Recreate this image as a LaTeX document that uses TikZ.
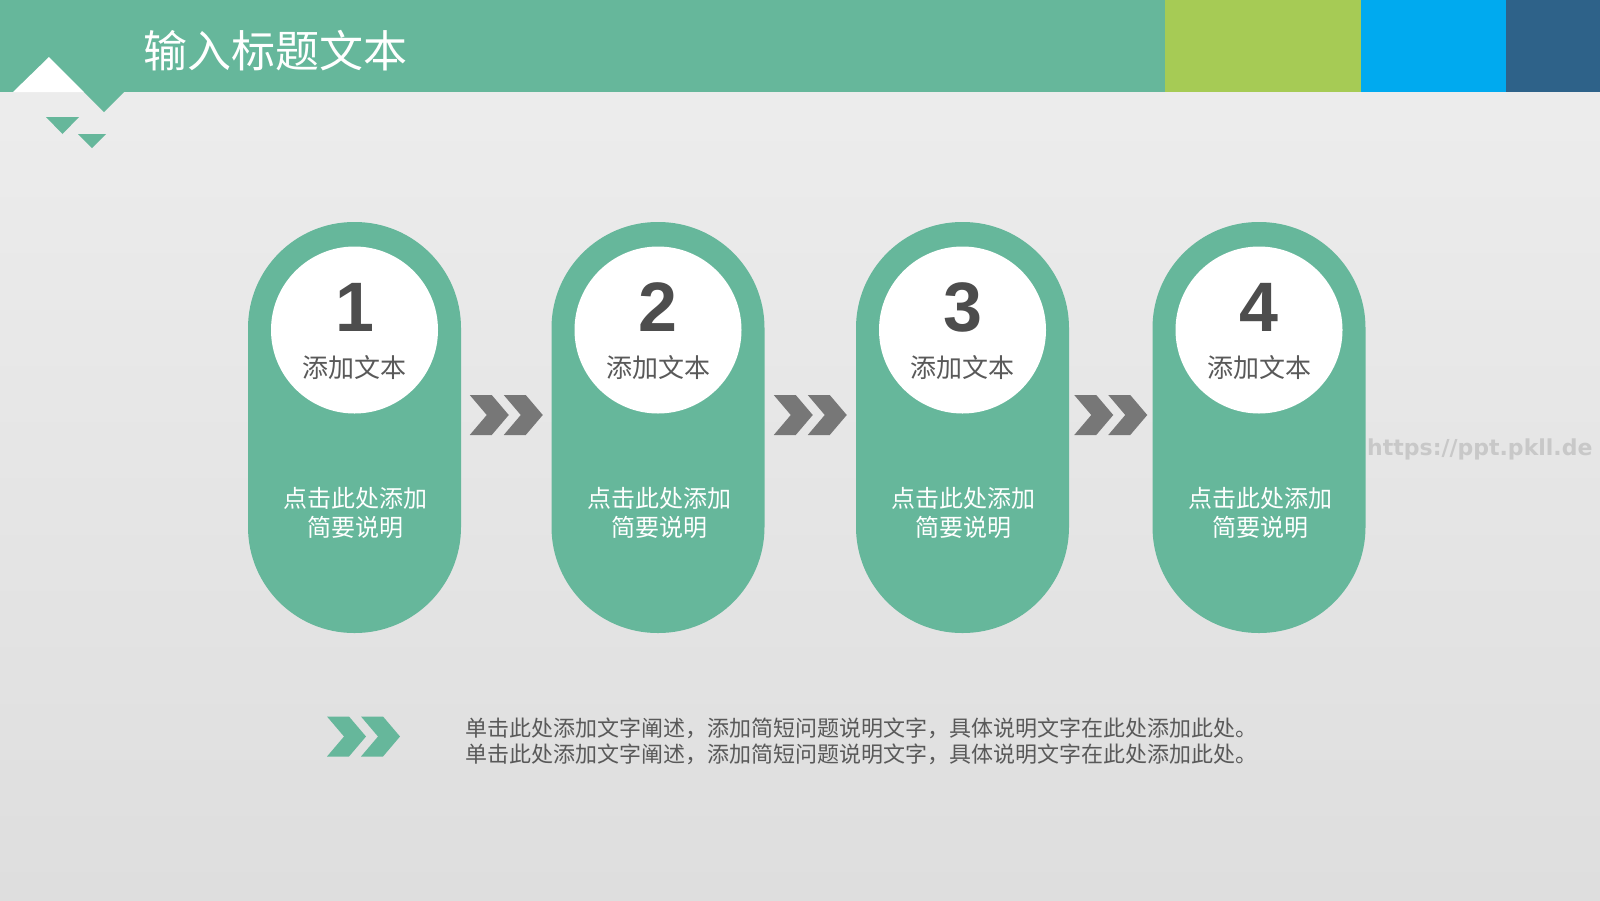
\documentclass[tikz,border=0pt]{standalone}
\usepackage{fontspec}
\setmainfont{Noto Sans CJK SC}
\newfontfamily\cjk{Noto Sans CJK SC}
\newfontfamily\numfont{Liberation Sans}
\newfontfamily\wmfont{DejaVu Sans}
\usetikzlibrary{calc}
\definecolor{mygreen}{HTML}{66B79B}
\definecolor{lime}{HTML}{A6CB55}
\definecolor{skyblue}{HTML}{00AAEF}
\definecolor{navy}{HTML}{2E6289}
\definecolor{bgtop}{HTML}{EEEEEE}
\definecolor{bgbot}{HTML}{DEDEDE}
\definecolor{chevgray}{HTML}{777777}
\definecolor{numgray}{HTML}{4D4D4D}
\definecolor{txtgray}{HTML}{595959}
\definecolor{wmgray}{HTML}{C8C8C8}
\tikzset{
  pill/.style={fill=mygreen, draw=none, minimum width=213pt, minimum height=411pt, rounded corners=106pt, inner sep=0pt},
  circ/.style={circle, fill=white, draw=none, minimum size=167pt, inner sep=0pt},
  numtxt/.style={text=numgray, font=\numfont\bfseries\fontsize{70}{70}\selectfont, inner sep=0pt},
  subtxt/.style={text=txtgray, font=\cjk\fontsize{26}{30}\selectfont, inner sep=0pt},
  desctxt/.style={text=white, font=\cjk\fontsize{24}{29}\selectfont, align=center, inner sep=0pt},
  chev/.pic={
    \fill[#1] (-36.5,-20)--(-14.5,-20)--(2.5,0)--(-14.5,20)--(-36.5,20)--(-19.5,0)--cycle;
    \fill[#1] (-2.5,-20)--(19.5,-20)--(36.5,0)--(19.5,20)--(-2.5,20)--(14.5,0)--cycle;
  }
}
\begin{document}
\begin{tikzpicture}[x=1pt,y=-1pt]
\useasboundingbox (0,0) rectangle (1600,900);
\shade[top color=bgtop, bottom color=bgbot] (0,0) rectangle (1600,900);
% header band
\fill[mygreen] (0,0) rectangle (1165,92);
\fill[lime] (1165,0) rectangle (1361,92);
\fill[skyblue] (1361,0) rectangle (1506,92);
\fill[navy] (1506,0) rectangle (1600,92);
\fill[white] (13,92) -- (49,57) -- (84,92) -- cycle;
\fill[mygreen] (84,92) -- (124,92) -- (104,112) -- cycle;
\fill[mygreen] (46,117) -- (79,117) -- (62.5,134) -- cycle;
\fill[mygreen] (78,134) -- (106,134) -- (92,148) -- cycle;
\node[anchor=west, text=white, font=\cjk\fontsize{44}{48}\selectfont, inner sep=0pt] (title) at (143,51) {输入标题文本};
% pills
\foreach \i/\x in {1/354.5, 2/658, 3/962.5, 4/1259} {
  \node[pill] (p\i) at (\x,427.5) {};
  \node[circ] (c\i) at (\x,330) {};
  \node[numtxt] (n\i) at (\x,307) {\i};
  \node[subtxt] (s\i) at (\x,368) {添加文本};
  \node[desctxt] (d\i) at (\x+1,513) {点击此处添加\\简要说明};
}
% chevrons between pills
\pic at ($(p1.east)!0.5!(p2.west)+(0,-12.5)$) {chev=chevgray};
\pic at ($(p2.east)!0.5!(p3.west)+(0,-12.5)$) {chev=chevgray};
\pic at ($(p3.east)!0.5!(p4.west)+(0,-12.5)$) {chev=chevgray};
% bottom note
\pic at (363.5,736.5) {chev=mygreen};
\node[anchor=west, text=txtgray, font=\cjk\fontsize{22}{26}\selectfont, align=left, inner sep=0pt] (note) at (465,741)
  {单击此处添加文字阐述，添加简短问题说明文字，具体说明文字在此处添加此处。\\单击此处添加文字阐述，添加简短问题说明文字，具体说明文字在此处添加此处。};
% watermark
\node[anchor=west, text=wmgray, font=\wmfont\bfseries\fontsize{22}{26}\selectfont, inner sep=0pt] (wm) at (1367,449) {https://ppt.pkll.de};
\end{tikzpicture}
\end{document}
